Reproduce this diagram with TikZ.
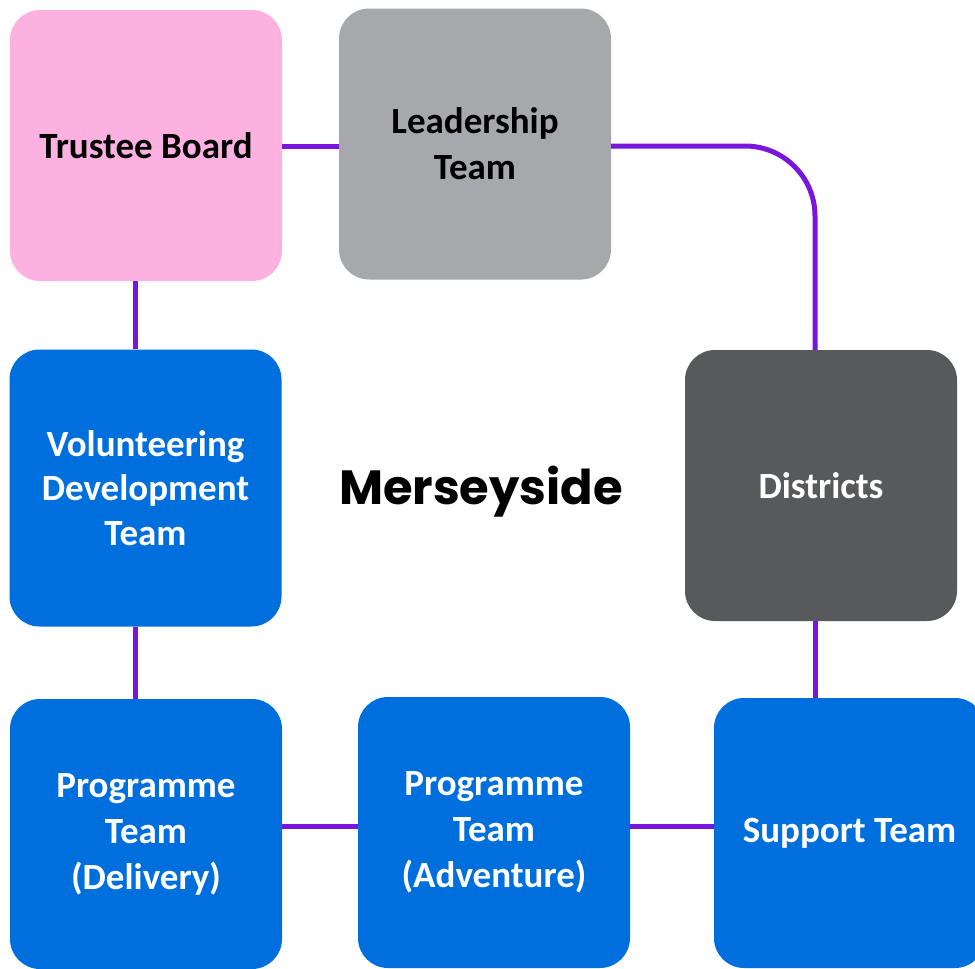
\documentclass[tikz,border=0pt]{standalone}
\usepackage{fontspec}
\setmainfont{Carlito}
\newfontfamily\titlefont{Poppins}
\usetikzlibrary{positioning}

\definecolor{trusteepink}{HTML}{FDB1E1}
\definecolor{leadgrey}{HTML}{A7A8AC}
\definecolor{distgrey}{HTML}{58595B}
\definecolor{teamblue}{HTML}{006FDE}
\definecolor{linkpurple}{HTML}{7A16DC}

\tikzset{
  teambox/.style={rounded corners=30pt, minimum width=272pt, minimum height=271pt,
    align=center, inner sep=0pt, font=\bfseries\fontsize{37}{46}\selectfont},
  bluebox/.style={teambox, fill=teamblue, text=white},
  link/.style={draw=linkpurple, line width=5pt}
}

\begin{document}
\begin{tikzpicture}[x=1pt, y=-1pt]
                    \useasboundingbox (0,0) rectangle (975,969);

                    \node[teambox, fill=trusteepink] (trustee) at (146,145.5) {Trustee Board};
                    \node[teambox, fill=leadgrey] (leader) at (475,144) {Leadership\\Team};
                    \node[teambox, fill=distgrey, text=white] (districts) at (821,485.5) {Districts};
                    \node[bluebox, minimum height=277pt, font=\bfseries\fontsize{37}{44.5}\selectfont] (volunteer) at (145.5,488) {Volunteering\\Development\\Team};
                    \node[bluebox, minimum height=270pt] (delivery) at (146,834) {Programme\\Team\\(Delivery)};
                    \node[bluebox] (adventure) at (494,832.5) {Programme\\Team\\(Adventure)};
                    \node[bluebox, minimum width=271pt, minimum height=270pt] (support) at (849.5,833) {Support Team};

                    \node[font=\titlefont\bfseries\fontsize{48}{52}\selectfont] (title) at (481,492) {Merseyside};

                    \draw[link] ([yshift=-1pt]trustee.east) -- ([yshift=-1pt]trustee.east -| leader.west);
                    \draw[link, rounded corners=70pt] ([yshift=-2pt]leader.east) -| ([xshift=-6pt]districts.north);
                    \draw[link] ([xshift=-11pt]trustee.south) -- ([xshift=-11pt]trustee.south |- volunteer.north);
                    \draw[link] ([xshift=-10.5pt]volunteer.south) -- ([xshift=-10.5pt]volunteer.south |- delivery.north);
                    \draw[link] ([yshift=8pt]delivery.east) -- ([yshift=8pt]delivery.east -| adventure.west);
                    \draw[link] ([yshift=6.5pt]adventure.east) -- ([yshift=6.5pt]adventure.east -| support.west);
                    \draw[link] ([xshift=-6pt]districts.south) -- ([xshift=-6pt]districts.south |- support.north);
                \end{tikzpicture}
\end{document}
